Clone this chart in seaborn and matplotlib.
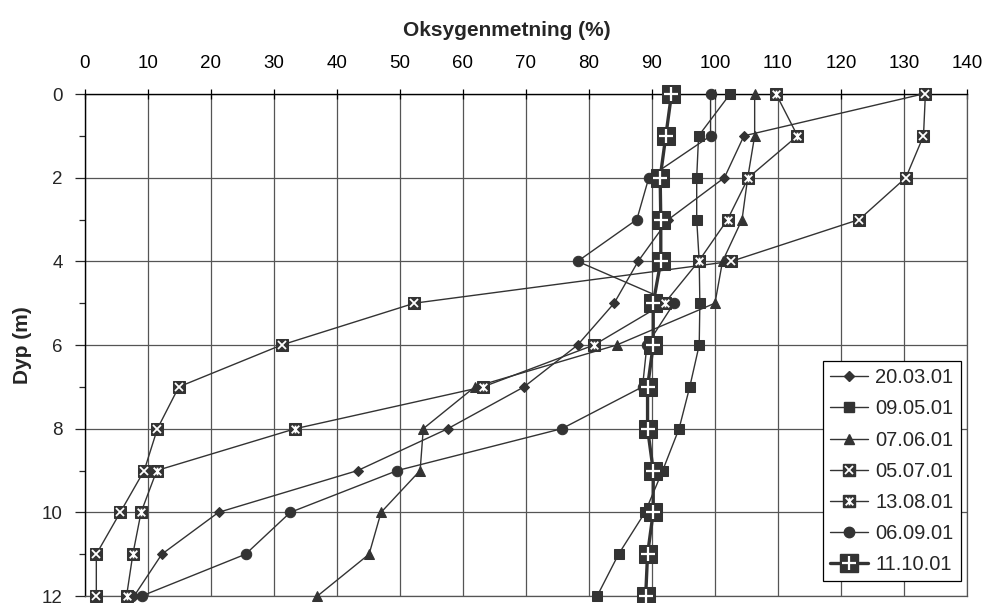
import numpy as np
import pandas as pd
import matplotlib
matplotlib.use("Agg")
import matplotlib.pyplot as plt
import seaborn as sns
from matplotlib.path import Path
from matplotlib.lines import Line2D
from matplotlib.legend_handler import HandlerTuple

depth = [0, 1, 2, 3, 4, 5, 6, 7, 8, 9, 10, 11, 12]
d20_03 = [133.0, 104.6, 101.5, 92.6, 87.8, 84.0, 78.2, 69.7, 57.6, 43.3, 21.2, 12.2, 7.8]
d09_05 = [102.4, 97.4, 97.1, 97.1, 97.5, 97.6, 97.5, 96.0, 94.3, 91.7, 88.9, 84.7, 81.3]
d07_06 = [106.3, 106.3, 105.2, 104.3, 101.2, 100.0, 84.4, 61.9, 53.7, 53.2, 47.0, 45.1, 36.9]
d05_07 = [133.4, 133.1, 130.3, 122.9, 102.6, 52.3, 31.2, 14.9, 11.5, 9.4, 5.6, 1.8, 1.8]
d13_08 = [109.7, 113.1, 105.3, 102.0, 97.4, 92.0, 80.8, 63.2, 33.4, 11.4, 8.9, 7.6, 6.6]
d06_09 = [99.3, 99.3, 89.5, 87.6, 78.2, 93.5, 89.2, 88.5, 75.7, 49.6, 32.6, 25.5, 9.0]
d11_10 = [93.1, 92.2, 91.3, 91.4, 91.4, 90.2, 90.2, 89.3, 89.3, 90.2, 90.2, 89.3, 89.0]

labels = ["20.03.01", "09.05.01", "07.06.01", "05.07.01", "13.08.01", "06.09.01", "11.10.01"]
series = [d20_03, d09_05, d07_06, d05_07, d13_08, d06_09, d11_10]

sns.set_style("white")
plt.rcParams['font.family'] = ['Liberation Sans', 'DejaVu Sans']

dark = "#333333"
# X with a vertical bar, like the 13.08.01 marker
zh = Path([(-1, -1), (1, 1), (-1, 1), (1, -1), (0, -1), (0, 1)],
          [Path.MOVETO, Path.LINETO, Path.MOVETO, Path.LINETO, Path.MOVETO, Path.LINETO])

# marker, size, line width, white overlay marker, overlay size
styles = [
    ("D", 5, 1.0, None, 0),
    ("s", 7, 1.0, None, 0),
    ("^", 7.5, 1.0, None, 0),
    ("s", 9, 1.0, "x", 5.5),
    ("s", 9, 1.0, zh, 5.5),
    ("o", 7.5, 1.0, None, 0),
    ("s", 13, 2.4, "+", 10),
]

fig = plt.figure(figsize=(9.87, 6.03), dpi=100)
ax = fig.add_axes([0.0861, 0.0116, 0.8936, 0.8325])

handles = []
for lab, vals, (mk, ms, lw, over, oms) in zip(labels, series, styles):
    df = pd.DataFrame({"x": vals, "y": depth})
    sns.lineplot(data=df, x="x", y="y", sort=False, estimator=None, ax=ax,
                 color=dark, lw=lw, marker=mk, ms=ms, mec=dark, mfc=dark,
                 clip_on=False, zorder=3)
    h = Line2D([], [], color=dark, lw=lw, marker=mk, ms=ms, mec=dark, mfc=dark)
    if over is not None:
        ax.plot(vals, depth, ls="none", marker=over, ms=oms, mec="white",
                mew=1.3 if over != "+" else 1.6, clip_on=False, zorder=4)
        h2 = Line2D([], [], ls="none", marker=over, ms=oms, mec="white",
                    mew=1.3 if over != "+" else 1.6)
        handles.append((h, h2))
    else:
        handles.append(h)

ax.set_xlim(0, 140)
ax.set_ylim(12, 0)
ax.set_xticks(np.arange(0, 141, 10))
ax.set_yticks(np.arange(0, 13, 2))
ax.set_yticks(np.arange(1, 12, 2), minor=True)
ax.xaxis.tick_top()
ax.xaxis.set_label_position("top")
ax.grid(True, which="major", color="#555555", lw=0.9)
ax.tick_params(axis="x", which="major", direction="inout", length=7, width=0.9,
               labelsize=13.5, pad=12, colors="black")
ax.tick_params(axis="y", which="major", direction="out", length=7, width=0.9,
               labelsize=13.5, pad=9, left=True)
ax.tick_params(axis="y", which="minor", direction="out", length=4, width=0.9, left=True)
for side in ["top", "left"]:
    ax.spines[side].set_color("black")
    ax.spines[side].set_linewidth(1.0)
for side in ["right", "bottom"]:
    ax.spines[side].set_color("#555555")
    ax.spines[side].set_linewidth(0.9)

ax.set_xlabel("Oksygenmetning (%)", fontsize=15, fontweight="bold")
ax.set_ylabel("Dyp (m)", fontsize=15, fontweight="bold")
ax.xaxis.set_label_coords(0.478, 1.115)
ax.yaxis.set_label_coords(-0.060, 0.5)

leg = ax.legend(handles, labels, handler_map={tuple: HandlerTuple(ndivide=1)},
                loc="lower right", bbox_to_anchor=(0.993, 0.03), fontsize=14.5,
                frameon=True, fancybox=False, framealpha=1, edgecolor="black",
                handlelength=1.9, handletextpad=0.35, labelspacing=0.6,
                borderpad=0.35, borderaxespad=0)
leg.get_frame().set_linewidth(0.9)
leg.set_zorder(10)

fig.savefig("out.png", dpi=100)
